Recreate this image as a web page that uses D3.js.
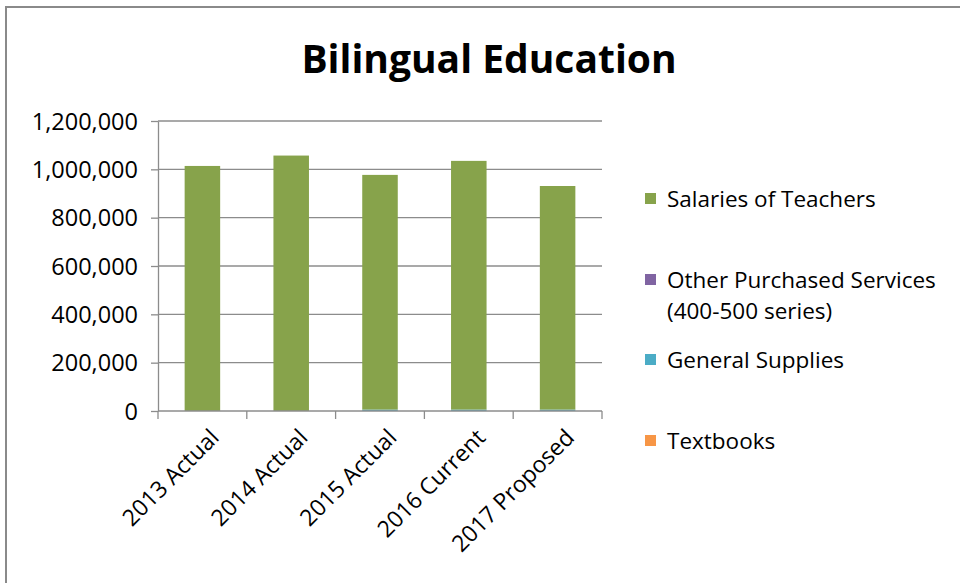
<!DOCTYPE html>
<html>
<head>
<meta charset="utf-8">
<title>Bilingual Education</title>
<style>
  body { margin: 0; background: #fff; }
  text { font-family: "Open Sans", sans-serif; fill: #000; }
  .grid line { stroke: #8c8c8c; stroke-width: 1.3; }
  .axis path, .axis line { stroke: #8c8c8c; stroke-width: 1.3; }
</style>
<script src="https://d3js.org/d3.v7.min.js"></script>
</head>
<body>
<svg width="960" height="583"></svg>
<script>
// chart data
var categories = ["2013 Actual", "2014 Actual", "2015 Actual", "2016 Current", "2017 Proposed"];
var textbooks = [0, 0, 0, 0, 0];
var generalSupplies = [0, 0, 6000, 6000, 6000];
var otherServices = [0, 0, 0, 0, 0];
var salaries = [1014000, 1057000, 971000, 1029000, 925000];
var yTicks = [0, 200000, 400000, 600000, 800000, 1000000, 1200000];

var seriesNames = ["Textbooks", "General Supplies", "Other Purchased Services (400-500 series)", "Salaries of Teachers"];
var seriesColors = ["#f79646", "#4bacc6", "#8064a2", "#87a34b"];

var svg = d3.select("svg");

// frame
svg.append("rect")
   .attr("x", 6).attr("y", 7)
   .attr("width", 970).attr("height", 600)
   .attr("fill", "#fff")
   .attr("stroke", "#8a8a8a")
   .attr("stroke-width", 2);

svg.append("text")
   .attr("x", 489).attr("y", 73)
   .attr("text-anchor", "middle")
   .style("font-size", "39px")
   .style("font-weight", "bold")
   .text("Bilingual Education");

var margin = {left: 158, right: 602, top: 121, bottom: 411};

var x = d3.scaleBand().domain(categories).range([margin.left, margin.right]).paddingInner(0.6).paddingOuter(0.3);
var xb = d3.scaleBand().domain(categories).range([margin.left, margin.right]);
var y = d3.scaleLinear().domain([0, 1200000]).range([margin.bottom, margin.top]);

// gridlines
svg.append("g").attr("class", "grid")
   .selectAll("line").data(yTicks.slice(1)).enter().append("line")
   .attr("x1", margin.left).attr("x2", margin.right)
   .attr("y1", function(d){ return y(d); })
   .attr("y2", function(d){ return y(d); });

// stacked bars
var rows = categories.map(function(c, i){
  return {cat: c, s0: textbooks[i], s1: generalSupplies[i], s2: otherServices[i], s3: salaries[i]};
});
var stack = d3.stack().keys(["s0", "s1", "s2", "s3"]);
var layers = stack(rows);

svg.append("g").selectAll("g").data(layers).enter().append("g")
   .attr("fill", function(d, i){ return seriesColors[i]; })
   .selectAll("rect").data(function(d){ return d; }).enter().append("rect")
   .attr("x", function(d){ return x(d.data.cat); })
   .attr("width", x.bandwidth())
   .attr("y", function(d){ return y(d[1]); })
   .attr("height", function(d){ return y(d[0]) - y(d[1]); });

// y axis
var yAxis = svg.append("g").attr("class", "axis")
   .attr("transform", "translate(" + margin.left + ",0)")
   .call(d3.axisLeft(y).tickValues(yTicks).tickSize(7).tickSizeOuter(0).tickFormat(d3.format(",")));
yAxis.selectAll("text").style("font-size", "23.5px").attr("x", -20).attr("dy", "0.35em");

// x axis with ticks at category boundaries
var xAxis = svg.append("g").attr("class", "axis")
   .attr("transform", "translate(0," + margin.bottom + ")");
xAxis.append("line").attr("x1", margin.left).attr("x2", margin.right);
xAxis.selectAll(".tk").data(categories.concat(["end"])).enter().append("line")
   .attr("class", "tk")
   .attr("x1", function(d, i){ return i < categories.length ? xb(d) : margin.right; })
   .attr("x2", function(d, i){ return i < categories.length ? xb(d) : margin.right; })
   .attr("y1", 0).attr("y2", 8);
xAxis.selectAll(".lbl").data(categories).enter().append("text")
   .attr("class", "lbl")
   .attr("text-anchor", "end")
   .style("font-size", "23px")
   .attr("transform", function(d){
     return "translate(" + (xb(d) + xb.bandwidth() / 2 + 18) + ",28) rotate(-45)";
   })
   .text(function(d){ return d; });

// legend (top to bottom in reverse stacking order)
var legendItems = [
  {name: ["Salaries of Teachers"], color: seriesColors[3], y: 199},
  {name: ["Other Purchased Services", "(400-500 series)"], color: seriesColors[2], y: 280},
  {name: ["General Supplies"], color: seriesColors[1], y: 360},
  {name: ["Textbooks"], color: seriesColors[0], y: 441}
];
var lg = svg.append("g").selectAll("g").data(legendItems).enter().append("g")
   .attr("transform", function(d){ return "translate(645," + d.y + ")"; });
lg.append("rect").attr("x", 0).attr("y", -6).attr("width", 11).attr("height", 11)
   .attr("fill", function(d){ return d.color; });
lg.each(function(d){
  var t = d3.select(this).append("text").attr("x", 22).attr("y", 0).attr("dy", "0.35em").style("font-size", "22.5px");
  d.name.forEach(function(line, i){
    t.append("tspan").attr("x", 22).attr("dy", i === 0 ? "0.35em" : "1.4em").text(line);
  });
});
</script>
</body>
</html>
